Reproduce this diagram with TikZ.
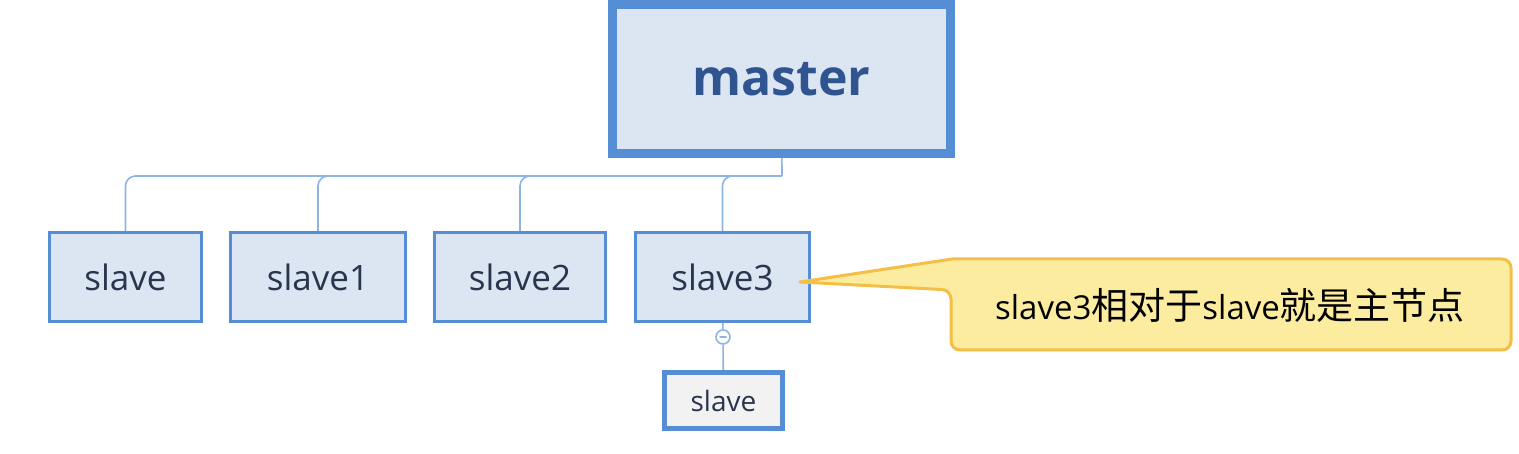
\documentclass[tikz,border=0pt]{standalone}
\usepackage{fontspec}
\setmainfont{Open Sans}
\newfontfamily\cjkfont{Noto Sans CJK SC}
\definecolor{boxblue}{RGB}{85,142,213}
\definecolor{boxfill}{RGB}{220,230,242}
\definecolor{linkblue}{RGB}{142,180,227}
\definecolor{mastertext}{RGB}{47,84,143}
\definecolor{slavetext}{RGB}{42,52,78}
\definecolor{subfill}{RGB}{242,242,242}
\definecolor{notefill}{RGB}{252,236,160}
\definecolor{noteline}{RGB}{245,190,70}
\newcommand{\zh}[1]{{\cjkfont\fontsize{37}{44}\selectfont #1}}
\begin{document}
\begin{tikzpicture}[x=1pt,y=-1pt,
		box/.style={draw=boxblue,fill=boxfill,line width=3pt,inner sep=0pt,minimum height=89pt,text=slavetext,font=\fontsize{35}{42}\selectfont},
		link/.style={draw=linkblue,line width=1.6pt}]
		\useasboundingbox (0,0) rectangle (1519,454);
		\begin{scope}[every node/.append style={box}]
			\node[line width=9pt,minimum width=338pt,minimum height=149pt,text=mastertext,font=\fontsize{50}{60}\selectfont\bfseries] (m) at (781.5,79) {master};
			\node[minimum width=152pt] (0) at (125.5,277) {slave};
			\node[minimum width=175pt] (1) at (318,277) {slave1};
			\node[minimum width=171pt] (2) at (520,277) {slave2};
			\node[minimum width=174pt] (3) at (722.5,277) {slave3};
			\node[line width=5pt,fill=subfill,minimum width=118pt,minimum height=56pt,font=\fontsize{28}{34}\selectfont] (4) at (723.5,400.5) {slave};
		\end{scope}
		\coordinate (hub) at (782,176);
		\node[circle,draw=linkblue,fill=white,line width=1.6pt,minimum size=14pt,inner sep=0pt] (fold) at (723,337) {};

		\draw[link] (m) -- (hub) (3) -- (fold) -- (4) ([xshift=-3.5pt]fold.center) -- ([xshift=3.5pt]fold.center);
		\draw[link,rounded corners=10pt] (hub) -| (0.north) (hub) -| (1.north) (hub) -| (2.north) (hub) -| (3.north);

		\coordinate (tip) at (800,282);
		\draw[fill=notefill,draw=noteline,line width=3pt,line join=round] (tip) -- (952,259) [rounded corners=9pt] -- (1511,259) -- (1511,350) -- (951,350) -- (951,290) [sharp corners] -- cycle;
		\node[text=black,font=\fontsize{33}{40}\selectfont] (note) at (1230,305) {slave3\zh{相对于}slave\zh{就是主节点}};
	\end{tikzpicture}
\end{document}
